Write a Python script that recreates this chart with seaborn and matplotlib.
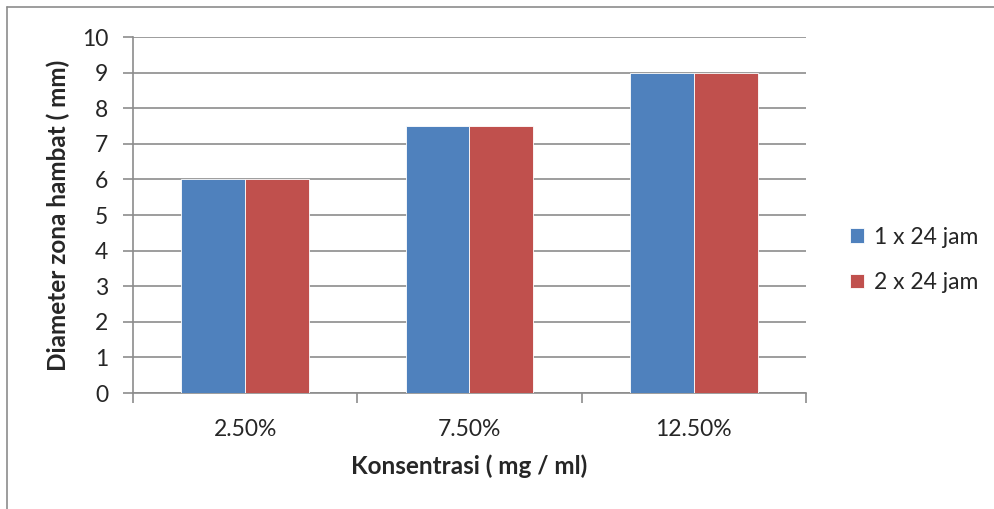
import matplotlib
matplotlib.use("Agg")
import matplotlib.pyplot as plt
from matplotlib.lines import Line2D
from matplotlib.ticker import FixedLocator
import seaborn as sns
import pandas as pd

# data
konsentrasi = ["2.50%", "7.50%", "12.50%"]
waktu = ["1 x 24 jam", "2 x 24 jam"]
diameter_1x24 = [6, 7.5, 9]
diameter_2x24 = [6, 7.5, 9]

df = pd.DataFrame({
    "konsentrasi": konsentrasi * 2,
    "waktu": [waktu[0]] * 3 + [waktu[1]] * 3,
    "diameter": diameter_1x24 + diameter_2x24,
})

sns.set_theme(style="white")
plt.rcParams["font.family"] = ["Lato", "DejaVu Sans"]

fig = plt.figure(figsize=(9.95, 5.09), dpi=100)
ax = fig.add_axes([133 / 995, 1 - 393 / 509, 673 / 995, 356 / 509])

sns.barplot(data=df, x="konsentrasi", y="diameter", hue="waktu",
            palette=["#4F81BD", "#C0504D"], width=0.57, saturation=1,
            edgecolor="white", linewidth=0.6, ax=ax, zorder=3)

ax.set_xlim(-0.5, 2.5)
ax.set_ylim(0, 10)
ax.set_yticks(range(0, 11))
ax.yaxis.grid(True, color="#8c8c8c", linewidth=1.2, zorder=0)
ax.set_axisbelow(True)
for s in ["top", "right"]:
    ax.spines[s].set_visible(False)
for s in ["left", "bottom"]:
    ax.spines[s].set_color("#8c8c8c")
    ax.spines[s].set_linewidth(1.2)

ax.tick_params(axis="y", which="major", left=True, length=7, width=1.2,
               color="#8c8c8c", labelsize=16.5, pad=11)
ax.tick_params(axis="x", which="major", bottom=False, labelsize=16.5, pad=13)
ax.xaxis.set_minor_locator(FixedLocator([-0.5, 0.5, 1.5, 2.5]))
ax.tick_params(axis="x", which="minor", bottom=True, length=7, width=1.2,
               color="#8c8c8c")

ax.set_xlabel("Konsentrasi ( mg / ml)", fontsize=17.5, fontweight="bold", labelpad=10)
ax.set_ylabel("Diameter zona hambat ( mm)", fontsize=17.5, fontweight="bold", labelpad=8)

ax.legend(loc="center left", bbox_to_anchor=(1.035, 0.374), frameon=False,
          fontsize=16.5, handlelength=0.6, handleheight=0.6, handletextpad=0.45,
          labelspacing=1.05)

# chart border like in the original (only top/left visible)
fig.add_artist(Line2D([7 / 995, 7 / 995], [0, 1 - 7 / 509], color="#8c8c8c",
                      linewidth=1.2, transform=fig.transFigure))
fig.add_artist(Line2D([7 / 995, 1], [1 - 7 / 509, 1 - 7 / 509], color="#8c8c8c",
                      linewidth=1.2, transform=fig.transFigure))

fig.savefig("out.png", dpi=100)
